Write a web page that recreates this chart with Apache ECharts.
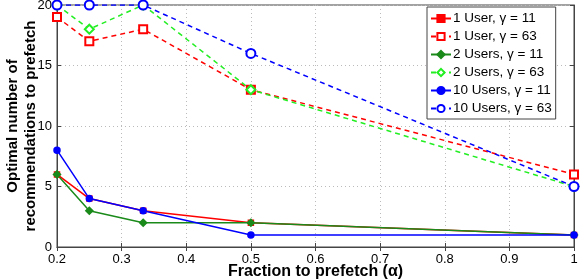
<!DOCTYPE html>
<html><head><meta charset="utf-8">
<script src="https://cdn.jsdelivr.net/npm/echarts@6/dist/echarts.min.js"></script>
<style>html,body{margin:0;padding:0;background:#fff}#c{width:582px;height:279px}</style>
</head><body><div id="c"></div>
<script>
const xVals = [0.2, 0.25, 1/3, 0.5, 1];
const names = ['1 User, γ = 11','1 User, γ = 63','2 Users, γ = 11','2 Users, γ = 63','10 Users, γ = 11','10 Users, γ = 63'];
const u1g11 = [6, 4, 3, 2, 1];
const u1g63 = [19, 17, 18, 13, 6];
const u2g11 = [6, 3, 2, 2, 1];
const u2g63 = [20, 18, 20, 13, 5];
const u10g11 = [8, 4, 3, 1, 1];
const u10g63 = [20, 20, 20, 16, 5];
const xTicks = [0.2,0.3,0.4,0.5,0.6,0.7,0.8,0.9,1];
const yTicks = [0,5,10,15,20];

const font = 'Liberation Sans, Arial, sans-serif';
function pairs(v){ return xVals.map((x,i)=>[x,v[i]]); }
function mk(name, data, color, dashed, symbol, size){
  return {name, type:'line', data:pairs(data), color,
    lineStyle:{color, width:1.5, type: dashed?[5,4]:'solid'},
    itemStyle:{color: color, borderColor:color, borderWidth:1.5},
    symbol, symbolSize:size, showSymbol:true, animation:false, z:2};
}
const chart = echarts.init(document.getElementById('c'));
const axisCommon = {
  type:'value', axisLine:{show:true, lineStyle:{color:'#444', width:1}},
  axisTick:{show:true, inside:true, length:4, lineStyle:{color:'#444'}},
  nameMoveOverlap:false
};
chart.setOption({
  animation:false,
  textStyle:{fontFamily:font},
  grid:{left:57, right:8, top:5, bottom:32, show:true, borderColor:'#444', borderWidth:1, containLabel:false, outerBoundsMode:'none'},
  xAxis:[
    Object.assign({}, axisCommon, {min:0.2, max:1, interval:0.1, position:'bottom',
      axisLabel:{color:'#000', fontSize:13, margin:6, formatter:v=>{const r=Math.round(v*10)/10; return xTicks.includes(r)? (r===1?'1':String(r)) : '';}},
      splitLine:{show:true, lineStyle:{color:'#bbb', type:[1,3]}},
      name:'Fraction to prefetch (α)', nameLocation:'middle', nameGap:17,
      nameTextStyle:{color:'#000', fontSize:16, fontWeight:'bold', verticalAlign:'top'}}),
    Object.assign({}, axisCommon, {min:0.2, max:1, interval:0.1, position:'top',
      axisLabel:{show:false}, splitLine:{show:false}})
  ],
  yAxis:[
    Object.assign({}, axisCommon, {min:0, max:20, interval:5, position:'left',
      axisLabel:{color:'#000', fontSize:13, margin:5, formatter:v=>yTicks.includes(v)?String(v):''},
      splitLine:{show:true, lineStyle:{color:'#bbb', type:[1,3]}},
      name:'Optimal number of\nrecommendations to prefetch', nameLocation:'middle', nameGap:17, nameRotate:90,
      nameTextStyle:{color:'#000', fontSize:15, fontWeight:'bold', lineHeight:18}}),
    Object.assign({}, axisCommon, {min:0, max:20, interval:5, position:'right',
      axisLabel:{show:false}, splitLine:{show:false}})
  ],
  legend:{
    orient:'vertical', left:427, top:7, width:125,
    backgroundColor:'#fff', borderColor:'#444', borderWidth:1,
    padding:[4,4,3,3], itemGap:3, itemWidth:20, itemHeight:9,
    textStyle:{fontSize:13.5, color:'#000', padding:[0,0,0,-3], lineHeight:15},
    data:names
  },
  series:[
    mk(names[0], u1g11, '#ff0000', false, 'rect', 5),
    mk(names[1], u1g63, '#ff0000', true, 'emptyRect', 8),
    mk(names[2], u2g11, '#1a8a1a', false, 'diamond', 7),
    mk(names[3], u2g63, '#22ee22', true, 'emptyDiamond', 9),
    mk(names[4], u10g11, '#0000ff', false, 'circle', 6),
    mk(names[5], u10g63, '#0000ff', true, 'emptyCircle', 9)
  ]
});
</script>
</body></html>
